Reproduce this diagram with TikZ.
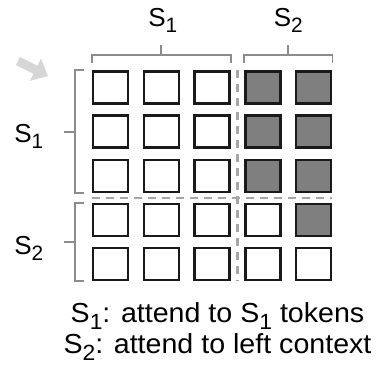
\documentclass[tikz,border=0pt]{standalone}
\usepackage{fontspec}
\setmainfont{Liberation Sans}
\usetikzlibrary{arrows.meta,positioning,calc}
\definecolor{tokline}{HTML}{1A1A1A}
\definecolor{tokfill}{HTML}{7F7F7F}
\definecolor{braceline}{HTML}{8C8C8C}
\definecolor{splitline}{HTML}{A6A6A6}
\definecolor{hintarrow}{HTML}{D6D6D6}
\newcommand{\tsub}[1]{\raisebox{-0.24em}{\scalebox{0.8}{#1}}}

\begin{document}
\begin{tikzpicture}[x=1pt, y=-1pt,
  tok/.style={rectangle, draw=tokline, line width=2.5pt, minimum width=35pt, minimum height=32pt, inner sep=0pt},
  seen/.style={tok, fill=tokfill},
  brace/.style={draw=braceline, line width=1.8pt},
  split/.style={draw=splitline, line width=2.2pt, dash pattern=on 8pt off 6pt},
  seg/.style={font=\fontsize{26}{30}\selectfont, anchor=base, inner sep=0pt},
  note/.style={font=\fontsize{27.5}{31}\selectfont, anchor=base, inner sep=0pt, xscale=1.04}
]
\useasboundingbox (0,0) rectangle (378,366);

% token grid, shaded = visible
\foreach \r/\y in {1/87.5, 2/131.5, 3/176, 4/220, 5/264} {
  \foreach \c/\x in {1/110.5, 2/161.3, 3/212.1, 4/262.9, 5/313.7} {
    \pgfmathtruncatemacro{\hit}{(\r<4 && \c>3) || (\r==4 && \c==5)}
    \ifnum\hit=1
      \node[seen] (c-\r-\c) at (\x,\y) {};
    \else
      \node[tok] (c-\r-\c) at (\x,\y) {};
    \fi
  }
}

% segment borders
\draw[split] ($(c-1-3.north east)!0.5!(c-1-4.north west)$) -- ($(c-5-3.south east)!0.5!(c-5-4.south west)$);
\draw[split] ($(c-3-1.south west)!0.5!(c-4-1.north west)$) -- ($(c-3-5.south east)!0.5!(c-4-5.north east)$);

% column brackets
\draw[brace] ([yshift=7pt]c-1-1.north west) -- ++(0,-8) -| ([yshift=7pt]c-1-3.north east);
\draw[brace] ([yshift=7pt]c-1-4.north west) -- ++(0,-8) -| ([yshift=7pt]c-1-5.north east);
\coordinate (top1) at ($(c-1-1.north west)!0.5!(c-1-3.north east)+(0,-15)$);
\coordinate (top2) at ($(c-1-4.north west)!0.5!(c-1-5.north east)+(0,-15)$);
\draw[brace] (top1) -- ++(0,-10);
\draw[brace] (top2) -- ++(0,-10);
\node[seg] (col1) at ($(top1)+(1.5,-28.7)$) {S\tsub{1}};
\node[seg] (col2) at ($(top2)+(0,-28.7)$) {S\tsub{2}};

% row brackets
\draw[brace] ([xshift=-8pt]c-1-1.north west) -- ++(-9,0) |- ([xshift=-8pt]c-3-1.south west);
\draw[brace] ([xshift=-8pt]c-4-1.north west) -- ++(-9,0) |- ([xshift=-8pt]c-5-1.south west);
\coordinate (side1) at ($(c-1-1.north west)!0.5!(c-3-1.south west)+(-17,0)$);
\coordinate (side2) at ($(c-4-1.north west)!0.5!(c-5-1.south west)+(-17,0)$);
\draw[brace] (side1) -- ++(-11,0);
\draw[brace] (side2) -- ++(-11,0);
\node[seg] (row1) at ($(side1)+(-46,10.5)$) {S\tsub{1}};
\node[seg] (row2) at ($(side2)+(-46,12.5)$) {S\tsub{2}};

% hint arrow
\coordinate (hint) at (18,61);
\coordinate (hinttip) at (48,76);
\draw[hintarrow, line width=9pt, -{Triangle[length=14pt, width=24pt]}] (hint) -- (hinttip);

% legend
\node[note] (note1) at (217.5,323) {S\tsub{1}: attend to S\tsub{1} tokens};
\node[note] (note2) at (217.5,354) {S\tsub{2}: attend to left context};
\end{tikzpicture}
\end{document}
